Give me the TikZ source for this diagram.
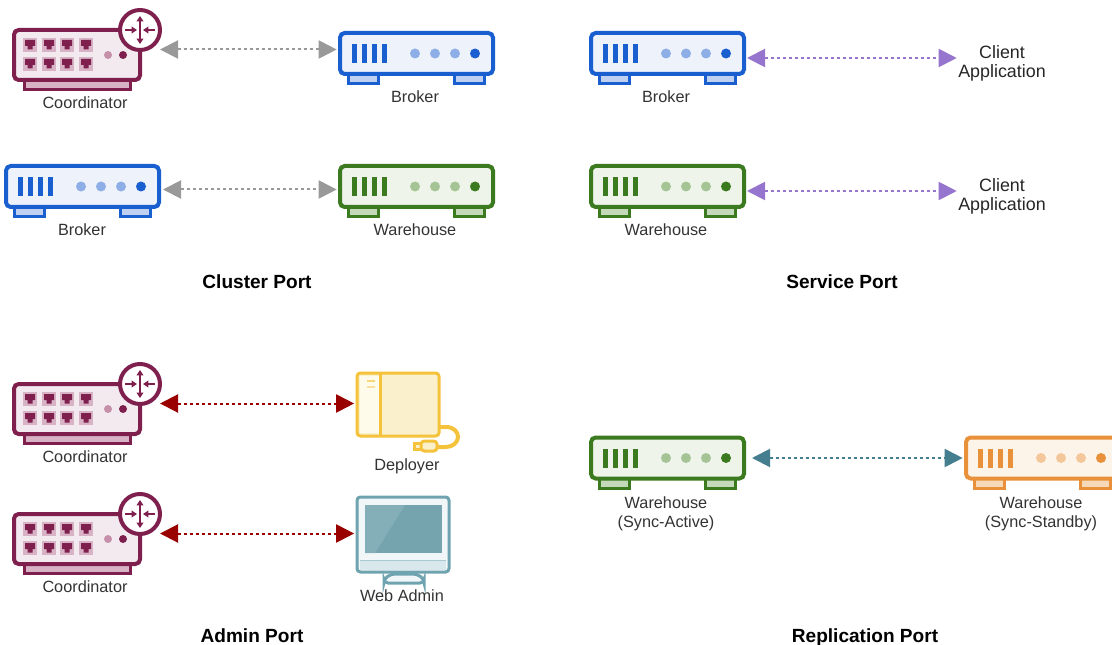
\documentclass[tikz,border=0pt]{standalone}
\usepackage{fontspec}
\setmainfont{Liberation Sans}
\usetikzlibrary{arrows.meta,calc}

\definecolor{bluedark}{HTML}{1A5FD0}
\definecolor{bluefill}{HTML}{EDF2FB}
\definecolor{bluefoot}{HTML}{BFD0F0}
\definecolor{bluedot}{HTML}{8EAEE8}
\definecolor{greendark}{HTML}{3B7A1E}
\definecolor{greenfill}{HTML}{EFF4EB}
\definecolor{greenfoot}{HTML}{C4D8BA}
\definecolor{greendot}{HTML}{A5C495}
\definecolor{orangedark}{HTML}{E8913A}
\definecolor{orangefill}{HTML}{FDF4E9}
\definecolor{orangefoot}{HTML}{F6D9B8}
\definecolor{orangedot}{HTML}{F4C79B}
\definecolor{maroondark}{HTML}{7E1F4E}
\definecolor{maroonfill}{HTML}{F3EAEF}
\definecolor{maroonlight}{HTML}{D8B3C5}
\definecolor{maroondot}{HTML}{C790AA}
\definecolor{yellowdark}{HTML}{F4C23B}
\definecolor{yellowfill}{HTML}{FBF0CC}
\definecolor{yellowpale}{HTML}{FFFBEB}
\definecolor{tealdark}{HTML}{6FA3AF}
\definecolor{tealscreen}{HTML}{76A4AE}
\definecolor{tealshine}{HTML}{85AFB8}
\definecolor{tealpale}{HTML}{F1F7F9}
\definecolor{tealband}{HTML}{D9E8EC}
\definecolor{linkgray}{HTML}{999999}
\definecolor{linkpurple}{HTML}{9575CD}
\definecolor{linkred}{HTML}{990000}
\definecolor{linkteal}{HTML}{457F8F}
\definecolor{labelgray}{HTML}{333333}

\tikzset{
    pics/netbox/.style n args={4}{code={
        \draw[draw=#1, fill=#3, line width=2.25pt] (-68.5,18) rectangle (-38.5,30);
        \draw[draw=#1, fill=#3, line width=2.25pt] (38,18) rectangle (68,30);
        \node[draw=#1, fill=#2, line width=3pt, rounded corners=3.5pt, inner sep=0pt,
              minimum width=114.75pt, minimum height=30.75pt] (-body) at (0,0) {};
        \foreach \x in {-62.5,-52.5,-42.5,-32.5}
            \draw[draw=#1, line width=3.75pt] (\x,-9.5) -- (\x,9.5);
        \foreach \x in {-1.5,18.5,38.5}
            \fill[#4] (\x,0) circle (5);
        \fill[#1] (58.5,0) circle (5);
    }},
    pics/broker/.style={netbox={bluedark}{bluefill}{bluefoot}{bluedot}},
    pics/warehouse/.style={netbox={greendark}{greenfill}{greenfoot}{greendot}},
    pics/standby/.style={netbox={orangedark}{orangefill}{orangefoot}{orangedot}},
    pics/coordinator/.style={code={
        \draw[draw=maroondark, fill=maroonlight, line width=2.25pt] (-52.5,20) rectangle (53.5,34.5);
        \node[draw=maroondark, fill=maroonfill, line width=3pt, rounded corners=3.5pt, inner sep=0pt,
              minimum width=94.5pt, minimum height=37.5pt] (-body) at (0,0) {};
        \foreach \x in {-47,-28,-10,9}
            \foreach \y in {-10,9} {
                \fill[maroonlight] (\x-7,\y-7) rectangle (\x+7,\y+7);
                \fill[maroondark] (\x-5,\y-5) -- (\x+5,\y-5) -- (\x+5,\y+1) -- (\x+2.5,\y+1)
                    -- (\x+2.5,\y+4.5) -- (\x-2.5,\y+4.5) -- (\x-2.5,\y+1) -- (\x-5,\y+1) -- cycle;
            }
        \fill[maroondot] (31,0) circle (4);
        \fill[maroondark] (46,0) circle (4);
        \node[circle, draw=maroondark, fill=white, line width=3pt, inner sep=0pt,
              minimum size=30pt] (-hub) at (63,-25) {};
        \draw[maroondark, line width=1.1pt, {Triangle[length=4pt,width=5pt]}-{Triangle[length=4pt,width=5pt]}]
            (63,-39) -- (63,-11);
        \draw[maroondark, line width=1.1pt, -{Triangle[length=4pt,width=5pt]}] (48,-25) -- (60,-25);
        \draw[maroondark, line width=1.1pt, -{Triangle[length=4pt,width=5pt]}] (78,-25) -- (66,-25);
        \coordinate (-out) at (83,-5.5);
    }}
}

\begin{document}
\begin{tikzpicture}[x=0.75pt, y=-0.75pt]
    \tikzstyle{label}=[
        text = labelgray,
        inner sep = 0pt,
        align = center,
        font = \fontsize{12.2}{14.25}\selectfont
    ]
    \tikzstyle{client}=[
        text = black!85,
        inner sep = 0pt,
        align = center,
        font = \fontsize{13.4}{14.25}\selectfont
    ]
    \tikzstyle{title}=[
        text = black,
        inner sep = 0pt,
        font = \fontsize{14.3}{16}\selectfont\bfseries
    ]
    \tikzstyle{link}=[
        line width = 1.5pt,
        dash pattern = on 2.25pt off 2.25pt,
        {Triangle[length=13.5pt,width=13.5pt]}-{Triangle[length=13.5pt,width=13.5pt]},
        shorten > = 1pt
    ]

    \path[use as bounding box, clip] (0,0) rectangle (1112,645);

    \pic (c1) at (77,55)       {coordinator};
    \pic (b1) at (416.5,53.5)  {broker};
    \pic (b2) at (82.5,186.5)  {broker};
    \pic (w1) at (416.5,186.5) {warehouse};
    \pic (b3) at (667.5,53.5)  {broker};
    \pic (w2) at (667.5,186.5) {warehouse};
    \pic (c2) at (77,409)      {coordinator};
    \pic (c3) at (77,539)      {coordinator};
    \pic (w3) at (667.5,458)   {warehouse};
    \pic (w4) at (1042.5,458)  {standby};

    \draw[yellowdark, line width=3pt] (438,427) -- (446,427)
        .. controls (454,427) and (458,432) .. (458,437)
        .. controls (458,442) and (453,447) .. (446,447) -- (436,447);
    \node[draw=yellowdark, fill=yellowfill, line width=2.25pt, rounded corners=2.5pt, inner sep=0pt,
          minimum width=61.5pt, minimum height=47.25pt] (dep) at (398,404.5) {};
    \fill[yellowpale] (360,376) rectangle (380,433);
    \draw[yellowdark, line width=2.25pt] (380,374) -- (380,435);
    \draw[yellowdark!70, line width=1.5pt] (367,381) -- (375,381);
    \draw[yellowdark!50, line width=1.5pt] (367,387) -- (375,387);
    \draw[draw=yellowdark, fill=yellowfill, line width=2.25pt] (414.5,443.5) rectangle (421,449.5);
    \draw[draw=yellowdark, fill=yellowfill, line width=2.25pt, rounded corners=2.5pt] (421,441) rectangle (437,451);

    \draw[draw=tealdark, fill=tealpale, line width=2.25pt, rounded corners=3pt] (391,574) -- (417,574)
        -- (424,579) -- (424,583) -- (384,583) -- (384,579) -- cycle;
    \node[draw=tealdark, fill=tealpale, line width=2.25pt, rounded corners=2.5pt, inner sep=0pt,
          minimum width=69pt, minimum height=56.25pt] (adm) at (403,534.5) {};
    \fill[tealband] (360,560) rectangle (446,570);
    \draw[tealdark!60, line width=0.5pt] (360,560) -- (446,560);
    \fill[tealscreen] (365,505) rectangle (442,553);
    \fill[tealshine] (365,505) -- (405,505) -- (375,553) -- (365,553) -- cycle;

    \node[label] (c1l) at (85,103)     {Coordinator};
    \node[label] (b1l) at (415,97)     {Broker};
    \node[label] (b2l) at (82,230)     {Broker};
    \node[label] (w1l) at (415,230)    {Warehouse};
    \node[label] (b3l) at (666,97)     {Broker};
    \node[label] (w2l) at (666,230)    {Warehouse};
    \node[label] (c2l) at (85,457)     {Coordinator};
    \node[label] (c3l) at (85,587)     {Coordinator};
    \node[label] (depl) at (407,466)   {Deployer};
    \node[label] (adml) at (402,596)   {Web Admin};
    \node[label] (w3l) at (666,513.5)  {Warehouse\\(Sync-Active)};
    \node[label] (w4l) at (1041,513.5) {Warehouse\\(Sync-Standby)};

    \node[client] (ca1) at (1002,63.5)  {Client\\Application};
    \node[client] (ca2) at (1002,196.5) {Client\\Application};

    \node[title] (t1) at (257,282) {Cluster Port};
    \node[title] (t2) at (842,282) {Service Port};
    \node[title] (t3) at (252,636) {Admin Port};
    \node[title] (t4) at (865,638) {Replication Port};

    \coordinate (p1) at ($(b2-body.east)+(2,3)$);
    \coordinate (p2) at ($(b3-body.east)+(1,4.5)$);
    \coordinate (p3) at ($(w2-body.east)+(1,4.5)$);
    \coordinate (p4) at ($(w3-body.east)+(6,0)$);

    \draw[link, linkgray] (c1-out) -- (c1-out -| b1-body.west);
    \draw[link, linkgray] (p1) -- (p1 -| w1-body.west);
    \draw[link, linkpurple] (p2) -- (p2 -| ca1.west);
    \draw[link, linkpurple] (p3) -- (p3 -| ca2.west);
    \draw[link, linkred] (c2-out) -- (c2-out -| dep.west);
    \draw[link, linkred] (c3-out) -- (c3-out -| adm.west);
    \draw[link, linkteal] (p4) -- (p4 -| w4-body.west);

\end{tikzpicture}
\end{document}
